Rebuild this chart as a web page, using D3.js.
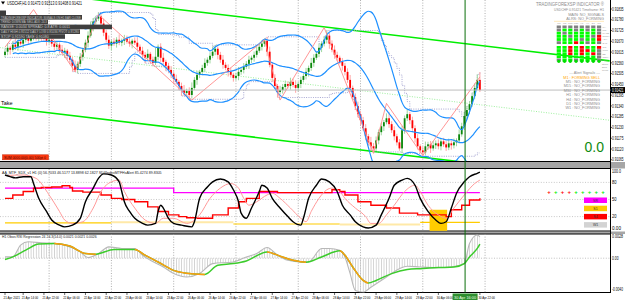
<!DOCTYPE html>
<html><head><meta charset="utf-8">
<script src="https://cdn.jsdelivr.net/npm/d3@7"></script>
<style>body{margin:0;background:#fff;overflow:hidden}svg{display:block;font-family:"Liberation Sans",Arial,sans-serif}</style>
</head><body><svg id="c" width="625" height="301"></svg>
<script>
// ---------------- DATA ----------------
const priceBase = 0.91;          // price = priceBase + pts/1e5
const firstOpen = 600;
const closePts = [617,637,627,653,642,668,658,678,689,673,699,704,689,709,694,684,668,678,658,642,
653,627,612,622,596,576,545,524,555,591,627,663,699,740,771,786,797,761,714,678,
648,668,658,678,663,673,684,668,658,673,663,642,622,601,586,606,576,560,591,642,
586,565,545,524,504,478,463,442,421,406,416,396,432,473,499,514,534,560,576,596,
617,632,601,576,550,534,514,499,483,493,514,524,540,555,576,586,601,622,642,658,
673,617,550,483,442,411,421,437,452,442,463,447,432,452,473,493,514,534,560,586,
606,637,658,678,699,658,627,601,586,565,545,514,473,432,385,339,298,267,226,185,
154,134,123,164,206,236,257,277,247,216,185,154,123,216,277,298,267,226,175,134,
113,103,134,144,123,139,149,134,159,144,128,149,139,154,164,195,236,288,319,349,
390,432,473,421];
const wickUp = [15,22,10,18,30,12,25,8,20,14,35,18,12,26,10,16,28,9,21,13,18,11,24,15,9,20,14,27,12,19,
10,16,22,30,18,14,20,12,25,16,22,9,18,13,27,11,19,15,24,10,17,28,12,20,14,23,10,16,45,12,
18,25,11,15,20,13,22,9,17,26,12,19,28,14,21,10,16,23,12,18,27,20,11,15,24,13,18,22,10,16,
25,12,19,14,20,11,17,23,15,18,12,20,26,14,19,10,22,15,18,13,21,16,24,11,17,14,20,12,25,18,
15,21,10,19,26,13,17,22,16,11,20,14,18,25,12,19,23,15,17,21,12,28,16,20,14,18,11,25,32,15,
20,13,17,22,14,26,12,18,15,21,10,19,24,13,17,22,15,20,12,18,16,24,14,19,11,25,18,22,20,15,
17,21,28,40];
const wickDn = [12,18,25,10,16,20,9,22,14,19,11,24,15,18,27,13,20,10,16,22,14,19,12,26,17,21,30,11,18,15,
20,13,24,10,19,16,12,22,18,14,17,25,11,20,13,18,22,10,16,24,12,19,15,23,28,14,20,17,11,18,
21,13,26,15,18,24,12,20,30,16,14,22,18,11,25,17,13,21,15,19,12,18,23,16,20,11,24,14,19,13,
22,15,18,12,26,17,20,14,11,19,16,23,13,20,15,28,12,18,22,14,19,12,25,16,21,13,18,24,15,20,
11,17,22,14,19,26,13,20,16,12,24,18,15,21,13,20,17,25,12,19,15,22,18,13,20,16,24,11,19,14,
21,16,12,25,18,14,20,13,22,17,15,20,14,18,23,12,19,16,21,13,18,14,22,16,20,15,12,19,17,21,
14,16,12,10];
const zzBars = [0,11,27,36,72,100,106,123,142,147,161,183];
const zzPts  = [640,832,514,807,370,678,370,740,98,353,87,488];
const chanBars = [-2,233];
const chanMid  = [638,267];
const chanHalf = 303;
const priceTicks = [0.91835,0.91780,0.91725,0.91670,0.91615,0.91560,0.91505,0.91450,0.91395,0.91340,0.91285,0.91230,0.91175,0.91120,0.91065];
const daySepBars = [17,41,65,89,113,137,161,185];
const cursorBar = 177.3;

// pane 2 (oscillator)
const stBars = [0,2,4,7,10,11,13,16,18,21,23,26,29,31,34,36,38,41,44,45,46,48,50,53,55,58,59,60,61,63,65,68,72,73,75,78,80,83,86,88,90,91,93,95,98,99,101,103,106,109,111,114,115,117,120,122,125,128,130,133,135,138,140,143,145,148,150,153,155,158,160,163,166,168,170,172,174,177,179,182,183];
const stVals = [93,90,88,90,90,78,52,29,14,5,2,5,17,46,70,87,95,93,81,64,46,29,17,8,5,8,29,40,35,17,8,5,2,11,52,72,81,86,81,67,46,26,17,35,64,75,70,52,35,20,11,5,17,52,75,86,81,64,40,23,11,2,0,5,23,52,75,84,87,75,52,29,14,8,11,35,61,81,90,96,98];
const pkBars = [0,7,12,17,21,23,26,30,34,37,41,44,46,50,54,58,61,65,70,75,79,83,87,90,92,94,97,101,103,106,110,114,116,118,121,124,126,129,131,135,139,141,144,147,150,154,158,160,163,167,170,173,177,181,183];
const pkVals = [92,93,87,58,29,14,8,11,35,64,81,84,64,35,14,8,17,17,8,23,52,70,78,70,52,40,46,58,61,52,35,17,11,29,52,67,70,64,52,35,20,8,8,23,40,64,75,64,40,23,17,35,58,78,84];
const rdBars = [0,3,7,11,14,18,22,25,26,30,37,41,45,50,55,59,63,67,70,74,80,86,90,93,98,105,126,129,131,136,141,147,152,159,170,172,176,179,183];
const rdVals = [52,58,64,70,71,72,74,71,65,63,58,52,50,46,37,29,23,20,18,17,23,35,46,52,64,62,67,64,58,46,40,35,26,23,20,32,40,49,52];
const mgBars = [0,65,183];
const mgVals = [70,62,62];
const ylStart = [0,41,88,129,160];
const ylEnd   = [41,88,129,160,183];
const ylVals  = [9,10,7,6,10];
const ylState = [1,0,1,0,1];
const zoneBars = [164,170];
const zoneVals = [32,-5];
const p2Levels = [80,50,20];
const p2TickVals = [100,80,50,20,0];
const p2TickText = ["100.0","80","50","20","0.00"];

// pane 3 (regression, units of 1e-4)
const grBars = [0,3,6,9,14,19,23,29,32,36,40,45,50,53,56,61,65,70,75,80,88,93,97,101,105,109,114,117,122,125,129,131,133,135,138,141,147,152,155,160,166,172,177,179,182,183];
const grVals = [1.5,1.5,15.3,19.2,18,17.3,15.3,7.4,0.8,5.5,13.3,11.4,11.4,3.5,-2.4,-10.3,-18,-22,-18,-6.3,-4.4,1.5,5.5,12.6,3.5,-2.4,-4.4,-4.4,11.4,11.4,9.4,1.5,-18,-37.8,-39.8,-33.9,-22,-12.2,-9.4,-10.3,-11,-10.3,-6.3,17.3,27.1,25.1];
const clBars = [0,3,8,13,19,25,31,35,42,50,54,59,65,72,77,82,88,93,101,106,111,116,122,129,131,134,138,140,143,149,155,160,167,173,177,179,182,183];
const clVals = [-1.5,1.5,9.4,16.5,17.3,14.2,5.5,4.7,10.3,10.3,3.5,-4.4,-14.2,-18.3,-19,-8.3,-6.3,-3.2,7.4,2.4,-2.4,-4.7,1.5,8.6,3.5,-10.3,-26,-29.1,-26,-18,-13.3,-12.2,-11,-10.3,-6.3,1.5,11.4,16.5];
const p3TickVals = [28.3,0,-40];
const p3TickText = ["0.0028","0.00","-0.0040"];

// time axis (the 30 Apr 14:00 label sits under the cursor box, as in the reference)
const timeBars = [0,7,15,23,31,39,47,55,63,71,79,87,95,103,111,119,127,135,143,151,159,167,183];
const timeText = ["21 Apr 2021","21 Apr 14:00","21 Apr 22:00","22 Apr 06:00","22 Apr 14:00","22 Apr 22:00","23 Apr 06:00","23 Apr 14:00","23 Apr 22:00","26 Apr 06:00","26 Apr 14:00","26 Apr 22:00","27 Apr 06:00","27 Apr 14:00","27 Apr 22:00","28 Apr 06:00","28 Apr 14:00","28 Apr 22:00","29 Apr 06:00","29 Apr 14:00","29 Apr 22:00","30 Apr 06:00","30 Apr 22:00"];
const cursorTime = "30 Apr 16:00";

// panels
const symbolLine = "USDCHF,H1  0.91473 0.91513 0.91408 0.91421";
const infoRows = ["TRADINGFOREXSP INDICATOR: SIGNALS ON H1 BAR CLOSE","TREND: DOWN  MA: SELL  ADX: 24.3","RANGE: 0.0034  SPREAD: 0.8  ATR: 0.0011","DAILY HIGH 0.91512  DAILY LOW 0.91036  PIVOT 0.91280","STOP 0.91590  TAKE 0.91080"];
const infoWidths = [82,48,112,80,65];
const gridCols = ["M1","M5","M15","M30","H1","H4","D1","W1"];
const gridRowsNames = ["MA","RSI","MACD","STOCH","ADX","SAR","CCI","WPR","BB","OSMA","ICHI"];
const gridStates = [
 [0,0,0,0,0,0,0,0],
 [0,1,1,0,1,0,1,0],
 [1,0,1,1,1,1,1,0],
 [1,1,0,1,1,1,0,2],
 [1,1,1,1,0,1,1,2],
 [0,1,1,2,1,0,1,0],
 [1,1,2,1,2,1,1,2],
 [1,1,2,1,2,2,1,0],
 [1,1,2,1,2,1,2,0],
 [1,1,1,1,1,1,1,0],
 [0,1,1,0,1,1,1,0]];
const alertRows = ["M1 : FORMING SELL","M5 : NO_FORMING","M15 : NO_FORMING","M30 : NO_FORMING","H1 : NO_FORMING","H4 : NO_FORMING","D1 : NO_FORMING","W1 : NO_FORMING"];
const plusColors = ["r","g","r","r","g","g","g","g","g"];
const legendText = ["SR","S1","S4","W1"];

// ---------------- DRAW ----------------
const svg = d3.select('#c');
const plotR = 610.5;
const mainBot = 161, p2Top = 169, p2Bot = 231, p3Top = 234, p3Bot = 292.5;
const x = d3.scaleLinear().domain([0, 233]).range([5, 5 + 233 * 2.595]);
const price = p => priceBase + p / 1e5;
const y = d3.scaleLinear().domain([priceTicks[0], priceTicks[priceTicks.length-1]]).range([9, 9 + 14 * 10.77]);
const y2 = d3.scaleLinear().domain([-5.3, 103.5]).range([p2Bot, p2Top]);
const y3 = d3.scaleLinear().domain([-40.1, 28.3]).range([p3Bot, p3Top]);

const defs = svg.append('defs');
function clip(id, x0, y0, w, h) { defs.append('clipPath').attr('id', id).append('rect').attr('x', x0).attr('y', y0).attr('width', w).attr('height', h); }
clip('cm', 0, 0, plotR, mainBot);
clip('c2', 0, p2Top, plotR, p2Bot - p2Top);
clip('c3', 0, p3Top, plotR, p3Bot - p3Top);
const pat = defs.append('pattern').attr('id', 'hatch').attr('patternUnits', 'userSpaceOnUse')
  .attr('x', x(0) - 0.3).attr('width', x(1) - x(0)).attr('height', 4);
pat.append('rect').attr('x', 0).attr('y', 0).attr('width', 0.7).attr('height', 4).attr('fill', '#c4c4c4');

// condensed text: measured, then squeezed horizontally to a target width
function fitText(parent, tx, ty, t, size, w, fill, anchor) {
  const el = parent.append('text').attr('x', 0).attr('y', 0).attr('font-size', size).attr('fill', fill || '#000')
    .attr('text-anchor', anchor || 'start').text(t);
  const n = el.node().getComputedTextLength();
  const s = n > w ? w / n : 1;
  el.attr('transform', `translate(${tx},${ty}) scale(${s.toFixed(4)},1)`);
  return el;
}
const axisLabel = (yy, t, w, fill) => fitText(svg, 612, yy, t, 4.8, w, fill);

// separators
svg.append('rect').attr('x', 0).attr('y', 162).attr('width', 625).attr('height', 6.5).attr('fill', '#a6a6a6');
svg.append('rect').attr('x', 0).attr('y', 231.5).attr('width', 625).attr('height', 2.5).attr('fill', '#a6a6a6');
[161.5, 168.5, 231, 234, 292.5].forEach(yy => svg.append('line').attr('x1', 0).attr('x2', plotR).attr('y1', yy).attr('y2', yy).attr('stroke', '#000').attr('stroke-width', 1));
svg.append('line').attr('x1', plotR).attr('x2', plotR).attr('y1', 0).attr('y2', 293).attr('stroke', '#000');

// day separators (all panes)
daySepBars.forEach(b => {
  [[0, mainBot], [p2Top, p2Bot], [p3Top, p3Bot]].forEach(([a, bb]) =>
    svg.append('line').attr('x1', x(b)).attr('x2', x(b)).attr('y1', a).attr('y2', bb)
      .attr('stroke', '#9a9a9a').attr('stroke-dasharray', '1,1.6').attr('stroke-width', 0.8));
});

// ---- main pane ----
const gm = svg.append('g').attr('clip-path', 'url(#cm)');
const bars = closePts.map((c, i) => {
  const o = i ? closePts[i - 1] : firstOpen;
  return { i, o, c, h: Math.max(o, c) + wickUp[i], l: Math.min(o, c) - wickDn[i] };
});
// regression channel
const chan = d3.scaleLinear().domain(chanBars).range(chanMid);
const chLine = off => d3.line().x(b => x(b)).y(b => y(price(chan(b) + off)))(chanBars);
gm.append('path').attr('d', chLine(chanHalf)).attr('stroke', '#00ee00').attr('stroke-width', 1.6).attr('fill', 'none');
gm.append('path').attr('d', chLine(-chanHalf)).attr('stroke', '#00ee00').attr('stroke-width', 1.6).attr('fill', 'none');
gm.append('path').attr('d', chLine(0)).attr('stroke', '#9ef09e').attr('stroke-width', 1).attr('stroke-dasharray', '1,1.5').attr('fill', 'none');

// donchian (dotted)
const N = 20;
const dHi = bars.map((b, i) => d3.max(bars.slice(Math.max(0, i - N + 1), i + 1), d => d.h));
const dLo = bars.map((b, i) => d3.min(bars.slice(Math.max(0, i - N + 1), i + 1), d => d.l));
const stepL = d3.line().x((d, i) => x(i)).y(d => y(price(d))).curve(d3.curveStepAfter);
gm.append('path').attr('d', stepL(dHi)).attr('stroke', '#9c9ccc').attr('stroke-dasharray', '1,1.3').attr('fill', 'none').attr('stroke-width', 0.9);
gm.append('path').attr('d', stepL(dLo)).attr('stroke', '#9c9ccc').attr('stroke-dasharray', '1,1.3').attr('fill', 'none').attr('stroke-width', 0.9);

// candles
const cg = gm.append('g');
bars.forEach(b => {
  const up = b.c >= b.o;
  cg.append('line').attr('x1', x(b.i)).attr('x2', x(b.i)).attr('y1', y(price(b.h))).attr('y2', y(price(b.l)))
    .attr('stroke', up ? '#9fd79f' : '#ffa6a6').attr('stroke-width', 1);
  const yt = y(price(Math.max(b.o, b.c))), yb = y(price(Math.min(b.o, b.c)));
  cg.append('rect').attr('x', x(b.i) - 0.9).attr('width', 1.8).attr('y', yt).attr('height', Math.max(0.8, yb - yt))
    .attr('fill', up ? '#0b870b' : '#ff0000');
});

// bollinger 20,2
const bb = closePts.map((c, i) => {
  const w = closePts.slice(Math.max(0, i - 19), i + 1);
  const m = d3.mean(w), s = Math.sqrt(d3.mean(w, v => (v - m) * (v - m)));
  return { i, m, u: m + 2 * s, l: m - 2 * s };
}).slice(3);
['u', 'm', 'l'].forEach(k => {
  gm.append('path').attr('d', d3.line().x(d => x(d.i)).y(d => y(price(d[k]))).curve(d3.curveMonotoneX)(bb))
    .attr('stroke', '#1e90ff').attr('stroke-width', 1.2).attr('fill', 'none');
});

// zigzag
gm.append('path').attr('d', d3.line().x((d, k) => x(zzBars[k])).y(d => y(price(d)))(zzPts))
  .attr('stroke', '#ff8a8a').attr('stroke-width', 0.9).attr('fill', 'none');

// bid line
const lastC = closePts[closePts.length - 1];
svg.append('line').attr('x1', 0).attr('x2', plotR).attr('y1', y(price(lastC))).attr('y2', y(price(lastC))).attr('stroke', '#bdbdbd').attr('stroke-width', 1);

// price axis
priceTicks.forEach(p => {
  svg.append('line').attr('x1', plotR).attr('x2', plotR + 1.5).attr('y1', y(p)).attr('y2', y(p)).attr('stroke', '#000').attr('stroke-width', 0.6);
  axisLabel(y(p) + 1.7, p.toFixed(5), 11.5);
});
svg.append('rect').attr('x', 611).attr('y', y(price(lastC)) - 3).attr('width', 14).attr('height', 6).attr('fill', '#000');
axisLabel(y(price(lastC)) + 1.7, price(lastC).toFixed(5), 11.5, '#fff');

// top-left texts
svg.append('path').attr('d', 'M1,1.5 L5,1.5 L3,4.5 Z').attr('fill', '#000');
fitText(svg, 7, 4.8, symbolLine, 4.6, 75, '#000');
svg.append('rect').attr('x', 0).attr('y', 10.5).attr('width', 6).attr('height', 4.5).attr('fill', '#3c3c3c');
infoRows.forEach((t, k) => {
  const yy = 15 + k * 4.8;
  svg.append('rect').attr('x', 0).attr('y', yy).attr('width', infoWidths[k]).attr('height', 4.6).attr('fill', '#3f3f3f');
  fitText(svg, 1, yy + 3.6, t, 3.6, infoWidths[k] - 2, '#c8c8c8');
});
svg.append('text').attr('x', 1).attr('y', 105).attr('font-size', 5.5).attr('fill', '#000').text('Take');
svg.append('rect').attr('x', 2.5).attr('y', 154.8).attr('width', 46).attr('height', 5).attr('fill', '#ff3a10').attr('stroke', '#c02000').attr('stroke-width', 0.5);
fitText(svg, 4, 158.6, 'SUM 0000.00(0.00) 500pt  0', 3.4, 42, '#400');
svg.append('text').attr('x', 604).attr('y', 152).attr('text-anchor', 'end').attr('font-size', 14).attr('fill', '#108a10').text('0.0');

// top-right panel
const pr = svg.append('g');
fitText(pr, 604, 6, 'TRADINGFOREXSP INDICATOR ®', 5.2, 68, '#8c8c8c', 'end');
fitText(pr, 604, 11, 'USDCHF 0.91421 Timeframe: H1', 3.8, 50, '#8c8c8c', 'end');
fitText(pr, 604, 15.5, 'MAIN: NO_SIGNALS', 3.8, 40, '#8c8c8c', 'end');
fitText(pr, 604, 20, 'ALRS: NO_FORMING', 3.8, 40, '#8c8c8c', 'end');
pr.append('line').attr('x1', 554).attr('x2', 604).attr('y1', 21.3).attr('y2', 21.3).attr('stroke', '#ffd070').attr('stroke-width', 0.5);
gridCols.forEach((c, j) => fitText(pr, 556.7 + j * 5.75 + 2.1, 24.2, c, 2.4, 4.4, '#999', 'middle'));
const rowY = k => 25.5 + k * 3.15 + (k >= 6 ? 1.6 : 0);
gridStates.forEach((row, k) => {
  row.forEach((s, j) => pr.append('rect').attr('x', 556.7 + j * 5.75).attr('y', rowY(k)).attr('width', 4.2).attr('height', 2.8)
    .attr('fill', s === 1 ? '#00ff00' : s === 2 ? '#ff0000' : '#808080'));
  fitText(pr, 602.5, rowY(k) + 2.3, gridRowsNames[k], 2.3, 7, '#999');
});
gridCols.forEach((c, j) => pr.append('circle').attr('cx', 558.8 + j * 5.75).attr('cy', 61.3).attr('r', 1.6).attr('fill', '#00dd00'));
['Stoch', 'Bars', 'Trend'].forEach((t, k) => fitText(pr, 602, 65 + k * 3, t, 2.4, 7.5, '#999'));
fitText(pr, 600, 74, '--- Alert Signals ---', 3.8, 40, '#8c8c8c', 'end');
alertRows.forEach((t, k) => fitText(pr, 600, 78.6 + k * 4.4, t, 3.8, 42, k === 0 ? '#ffa500' : '#8c8c8c', 'end'));

// ---- pane 2 ----
const g2 = svg.append('g').attr('clip-path', 'url(#c2)');
p2Levels.forEach(v => g2.append('line').attr('x1', 0).attr('x2', plotR).attr('y1', y2(v)).attr('y2', y2(v)).attr('stroke', '#b0b0b0').attr('stroke-dasharray', '1,1.6').attr('stroke-width', 0.7));
g2.append('rect').attr('x', x(zoneBars[0]) - 1).attr('width', x(zoneBars[1]) - x(zoneBars[0]) + 2).attr('y', y2(zoneVals[0])).attr('height', y2(zoneVals[1]) - y2(zoneVals[0])).attr('fill', '#ffcc00');
ylStart.forEach((s, k) => g2.append('line').attr('x1', x(s)).attr('x2', x(ylEnd[k])).attr('y1', y2(ylVals[k])).attr('y2', y2(ylVals[k]))
  .attr('stroke', ylState[k] ? '#ffcc00' : '#ffe9a8').attr('stroke-width', ylState[k] ? 1.2 : 2));
g2.append('path').attr('d', d3.line().x((d, k) => x(mgBars[k])).y(d => y2(d)).curve(d3.curveStepAfter)(mgVals)).attr('stroke', '#ff00ff').attr('stroke-width', 1.4).attr('fill', 'none');
g2.append('path').attr('d', d3.line().x((d, k) => x(rdBars[k])).y(d => y2(d)).curve(d3.curveStepAfter)(rdVals)).attr('stroke', '#ff0000').attr('stroke-width', 1.4).attr('fill', 'none');
g2.append('path').attr('d', d3.line().x((d, k) => x(pkBars[k])).y(d => y2(d)).curve(d3.curveMonotoneX)(pkVals)).attr('stroke', '#ff9a9a').attr('stroke-width', 1).attr('fill', 'none');
g2.append('path').attr('d', d3.line().x((d, k) => x(stBars[k])).y(d => y2(d)).curve(d3.curveMonotoneX)(stVals)).attr('stroke', '#000').attr('stroke-width', 1.4).attr('fill', 'none');
fitText(svg, 2, 173.5, 'AA_MTF_SDX_v1 H1 (0) 56.7033 46.5177 13.8898 62.1827 SDXIndexMTFHxAlert 85.4274 89.8305', 3.6, 160, '#222');
p2TickVals.forEach((v, k) => axisLabel(y2(v) + 1.7, p2TickText[k], p2TickText[k].length > 2 ? 9 : 4.5));
plusColors.forEach((c, k) => svg.append('text').attr('x', 549 + k * 6.75).attr('y', 193.5).attr('text-anchor', 'middle').attr('font-size', 6).attr('font-weight', 'bold')
  .attr('fill', c === 'r' ? '#ff0000' : '#00ee00').text('+'));
const legFill = ['#ff00ff', '#ffcc00', '#ff0000', '#d3d3d3'];
legendText.forEach((t, k) => {
  svg.append('rect').attr('x', 584).attr('y', 197.5 + k * 8.2).attr('width', 23).attr('height', 5.5).attr('fill', legFill[k]);
  svg.append('text').attr('x', 595.5).attr('y', 201.5 + k * 8.2).attr('text-anchor', 'middle').attr('font-size', 3.5).attr('fill', '#333').text(t);
});

// ---- pane 3 ----
const g3 = svg.append('g').attr('clip-path', 'url(#c3)');
g3.append('line').attr('x1', 0).attr('x2', plotR).attr('y1', y3(0)).attr('y2', y3(0)).attr('stroke', '#a8a8a8').attr('stroke-dasharray', '1,1.6').attr('stroke-width', 0.7);
const grArea = d3.area().x((d, k) => x(grBars[k])).y0(y3(0)).y1(d => y3(d)).curve(d3.curveMonotoneX);
g3.append('path').attr('d', grArea(grVals)).attr('fill', 'url(#hatch)');
g3.append('path').attr('d', d3.line().x((d, k) => x(grBars[k])).y(d => y3(d)).curve(d3.curveMonotoneX)(grVals)).attr('stroke', '#b8b8b8').attr('stroke-width', 1.1).attr('fill', 'none');
const clPath = d3.line().x((d, k) => x(clBars[k])).y(d => y3(d)).curve(d3.curveMonotoneX)(clVals);
g3.append('path').attr('d', clPath).attr('stroke', '#3ccc2c').attr('stroke-width', 1.5).attr('fill', 'none');
clVals.forEach((v, k) => {
  if (k === 0 || v >= clVals[k - 1]) return;
  const id = 'fc' + k;
  defs.append('clipPath').attr('id', id).append('rect').attr('x', x(clBars[k - 1])).attr('y', p3Top).attr('width', x(clBars[k]) - x(clBars[k - 1])).attr('height', p3Bot - p3Top);
  g3.append('g').attr('clip-path', `url(#${id})`).append('path').attr('d', clPath).attr('stroke', '#ff9a10').attr('stroke-width', 1.5).attr('fill', 'none');
});
fitText(svg, 2, 238, 'H1 Obos RSI Regression 24 24.3(14.0) 0.0021 0.0021 0.0026', 3.6, 95, '#222');
p3TickVals.forEach((v, k) => axisLabel(Math.min(291, Math.max(237.5, y3(v) + 1.7)), p3TickText[k], p3TickText[k].length > 5 ? 11 : 6.5));

// cursor vertical line (all panes)
svg.append('line').attr('x1', x(cursorBar)).attr('x2', x(cursorBar)).attr('y1', 0).attr('y2', p3Bot).attr('stroke', '#0a6e0a').attr('stroke-width', 1);

// time axis
timeBars.forEach((b, k) => {
  svg.append('line').attr('x1', x(b)).attr('x2', x(b)).attr('y1', 293).attr('y2', 295).attr('stroke', '#000').attr('stroke-width', 0.6);
  fitText(svg, Math.max(1, x(b) - 1.5), 299.3, timeText[k], 4.4, 16.5, '#000');
});
svg.append('rect').attr('x', x(cursorBar) - 12.5).attr('y', 293.5).attr('width', 25).attr('height', 6.5).attr('fill', '#2f8f2f');
fitText(svg, x(cursorBar) - 11, 298.8, cursorTime, 4.4, 22, '#e8ffe8');
</script></body></html>
